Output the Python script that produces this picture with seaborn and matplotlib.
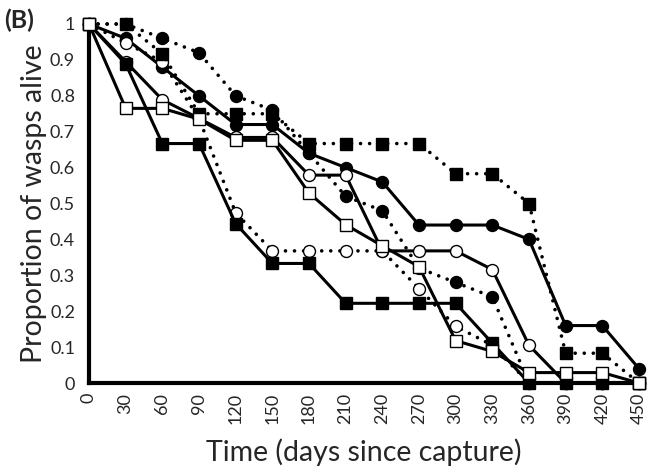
import matplotlib
matplotlib.use("Agg")
import matplotlib.pyplot as plt
import seaborn as sns
import pandas as pd

days = [0, 30, 60, 90, 120, 150, 180, 210, 240, 270, 300, 330, 360, 390, 420, 450]

filled_circle_dotted = [1, 1, 0.96, 0.92, 0.80, 0.76, 0.64, 0.52, 0.48, 0.32, 0.28, 0.24, 0, 0, 0, 0]
filled_circle_solid = [1, 0.96, 0.88, 0.80, 0.72, 0.72, 0.64, 0.60, 0.56, 0.44, 0.44, 0.44, 0.40, 0.16, 0.16, 0.04]
open_circle_dotted = [1, 0.947, 0.895, 0.737, 0.474, 0.368, 0.368, 0.368, 0.368, 0.263, 0.158, 0.105, 0, 0, 0, 0]
open_circle_solid = [1, 0.895, 0.789, 0.737, 0.684, 0.684, 0.579, 0.579, 0.368, 0.368, 0.368, 0.316, 0.105, 0, 0, 0]
filled_square_dotted = [1, 1, 0.917, 0.75, 0.75, 0.75, 0.667, 0.667, 0.667, 0.667, 0.583, 0.583, 0.5, 0.083, 0.083, 0]
filled_square_solid = [1, 0.889, 0.667, 0.667, 0.444, 0.333, 0.333, 0.222, 0.222, 0.222, 0.222, 0.111, 0, 0, 0, 0]
open_square_solid = [1, 0.765, 0.765, 0.735, 0.676, 0.676, 0.529, 0.441, 0.382, 0.324, 0.118, 0.088, 0.029, 0.029, 0.029, 0]

yticks = [0, 0.1, 0.2, 0.3, 0.4, 0.5, 0.6, 0.7, 0.8, 0.9, 1]
ytick_labels = ["0", "0.1", "0.2", "0.3", "0.4", "0.5", "0.6", "0.7", "0.8", "0.9", "1"]

sns.set_style("white")
plt.rcParams["font.family"] = ["Lato", "DejaVu Sans"]

fig = plt.figure(figsize=(6.55, 4.74), dpi=100)
ax = fig.add_axes([89 / 655, 1 - 383 / 474, 550 / 655, 359 / 474])

series = [
    (filled_circle_dotted, "o", "black", "dotted"),
    (filled_circle_solid, "o", "black", "solid"),
    (open_circle_dotted, "o", "white", "dotted"),
    (open_circle_solid, "o", "white", "solid"),
    (filled_square_dotted, "s", "black", "dotted"),
    (filled_square_solid, "s", "black", "solid"),
    (open_square_solid, "s", "white", "solid"),
]

for vals, mk, face, style in series:
    df = pd.DataFrame({"days": days, "prop": vals})
    kw = dict(color="black", marker=mk, markersize=8.6, markerfacecolor=face,
              markeredgecolor="black", markeredgewidth=1.0, clip_on=False)
    if style == "dotted":
        kw.update(linestyle=(0, (0.01, 2.5)), dash_capstyle="round", linewidth=2.6)
    else:
        kw.update(linestyle="-", linewidth=2.2)
    sns.lineplot(data=df, x="days", y="prop", ax=ax, estimator=None, sort=False, **kw)

ax.set_xlim(0, 450)
ax.set_ylim(0, 1)
ax.set_xticks(days)
ax.set_xticklabels([str(d) for d in days], rotation=90, fontsize=13)
ax.set_yticks(yticks)
ax.set_yticklabels(ytick_labels, fontsize=13)

for s in ["top", "right"]:
    ax.spines[s].set_visible(False)
for s in ["left", "bottom"]:
    ax.spines[s].set_linewidth(3)
    ax.spines[s].set_color("black")
    ax.spines[s].set_zorder(1)

ax.tick_params(axis="both", direction="out", length=4, width=2.5, color="black", pad=3)
ax.tick_params(axis="y", pad=6)

ax.set_xlabel("Time (days since capture)", fontsize=20.5, labelpad=10)
ax.set_ylabel("Proportion of wasps alive", fontsize=20.5, labelpad=2)

fig.text(4 / 655, 1 - 20 / 474, "(B)", fontsize=18, fontweight="bold", va="center", ha="left")

fig.savefig("out.png", dpi=100)
